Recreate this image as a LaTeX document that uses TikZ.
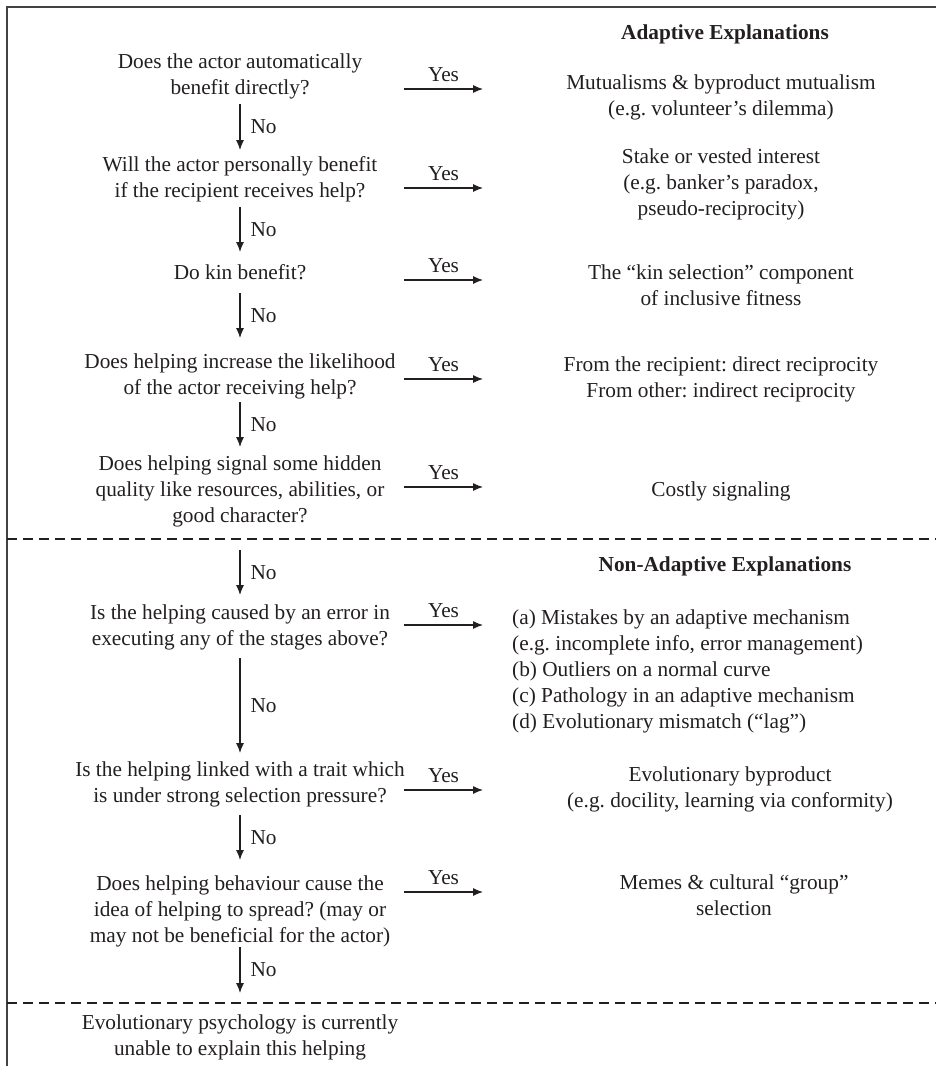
\documentclass[tikz,border=0pt]{standalone}
\usepackage{fontspec}
\setmainfont{Liberation Serif}
\usetikzlibrary{arrows.meta}
\definecolor{ink}{HTML}{231F20}
\frenchspacing
\begin{document}
\begin{tikzpicture}[x=1pt,y=-1pt,
  txt/.style={font=\fontsize{21.3}{26}\selectfont\frenchspacing, text=ink, inner sep=0pt, align=center, anchor=base},
  ltxt/.style={txt, align=left, anchor=base west},
  head/.style={txt, font=\fontsize{21.3}{26}\selectfont\bfseries},
  lab/.style={font=\fontsize{21.3}{26}\selectfont, text=ink, inner sep=0pt},
  arr/.style={draw=ink, line width=1.1pt, -{Latex[length=10pt,width=8pt]}},
  frame/.style={draw=ink!85, line width=1.4pt},
  sep/.style={draw=ink, line width=1.1pt, dash pattern=on 10pt off 6pt}
]
\useasboundingbox (0,0) rectangle (936,1066);
% frame and separators
\draw[frame] (7,1066) -- (7,7) -- (936,7);
\draw[sep] (7,539) -- (936,539);
\draw[sep] (7,1003) -- (936,1003);

% headings
\node[head] (hA) at (725,39) {Adaptive Explanations};
\node[head] (hN) at (725,571) {Non-Adaptive Explanations};

% questions (coordinates = baseline of last line)
\node[txt] (q1) at (240,94) {Does the actor automatically\\benefit directly?};
\node[txt] (q2) at (240,197) {Will the actor personally benefit\\if the recipient receives help?};
\node[txt] (q3) at (240,279) {Do kin benefit?};
\node[txt] (q4) at (240,394) {Does helping increase the likelihood\\of the actor receiving help?};
\node[txt] (q5) at (240,522) {Does helping signal some hidden\\quality like resources, abilities, or\\good character?};
\node[txt] (q6) at (240,645) {Is the helping caused by an error in\\executing any of the stages above?};
\node[txt] (q7) at (240,802) {Is the helping linked with a trait which\\is under strong selection pressure?};
\node[txt] (q8) at (240,942) {Does helping behaviour cause the\\idea of helping to spread? (may or\\may not be beneficial for the actor)};
\node[txt] (q9) at (240,1055) {Evolutionary psychology is currently\\unable to explain this helping};

% answers
\node[txt] (a1) at (721,115) {Mutualisms \& byproduct mutualism\\(e.g. volunteer’s dilemma)};
\node[txt] (a2) at (721,215) {Stake or vested interest\\(e.g. banker’s paradox,\\pseudo-reciprocity)};
\node[txt] (a3) at (721,305) {The “kin selection” component\\of inclusive fitness};
\node[txt] (a4) at (721,397) {From the recipient: direct reciprocity\\From other: indirect reciprocity};
\node[txt] (a5) at (721,496) {Costly signaling};
\node[ltxt] (a6) at (512,728) {(a) Mistakes by an adaptive mechanism\\(e.g. incomplete info, error management)\\(b) Outliers on a normal curve\\(c) Pathology in an adaptive mechanism\\(d) Evolutionary mismatch (“lag”)};
\node[txt] (a7) at (730,807) {Evolutionary byproduct\\(e.g. docility, learning via conformity)};
\node[txt] (a8) at (734,915) {Memes \& cultural “group”\\selection};

% "No" connectors (vertical)
\foreach \i/\ya/\yb in {1/104/150, 2/207/252, 3/293/338, 4/402/447, 5/550/595, 6/658/753, 7/815/860, 8/947/993}{
  \coordinate (n\i s) at (240,\ya);
  \coordinate (n\i e) at (240,\yb);
  \draw[arr] (n\i s) -- node[lab, anchor=west, xshift=10pt] {No} (n\i e);
}

% "Yes" connectors (horizontal)
\foreach \i/\y in {1/89, 2/188, 3/280, 4/379, 5/487, 6/625, 7/790, 8/892}{
  \coordinate (y\i s) at (404,\y);
  \coordinate (y\i e) at (483,\y);
  \draw[arr] (y\i s) -- node[lab, anchor=base, yshift=8pt] {Yes} (y\i e);
}
\end{tikzpicture}
\end{document}
